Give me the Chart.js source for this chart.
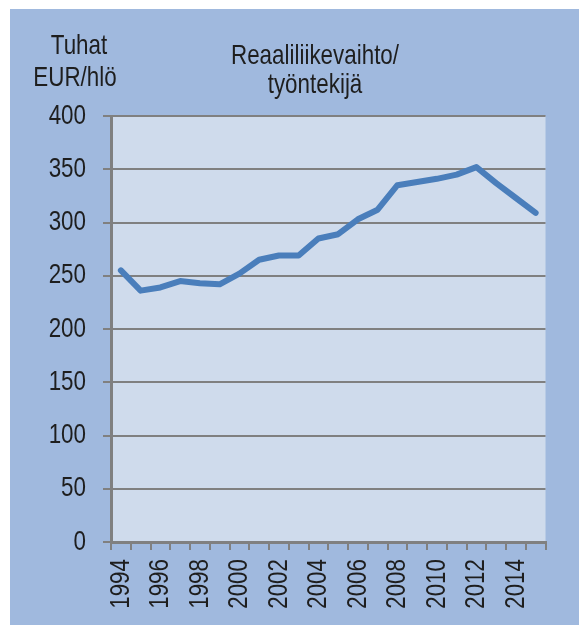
<!DOCTYPE html>
<html>
<head>
<meta charset="utf-8">
<script src="https://cdn.jsdelivr.net/npm/chart.js@4"></script>
<style>
  html, body { margin: 0; padding: 0; background: #ffffff; }
  canvas { display: block; }
</style>
</head>
<body>
<canvas id="c" width="579" height="625"></canvas>
<script>
const years = ["1994","1995","1996","1997","1998","1999","2000","2001","2002","2003","2004",
               "2005","2006","2007","2008","2009","2010","2011","2012","2013","2014","2015"];
const turnoverPerEmployee = [255, 236, 239, 245, 243, 242, 252, 265, 269, 269, 285,
                             289, 303, 312, 335, 338, 341, 345, 352, 337, 323, 309];
const yTicks = [0, 50, 100, 150, 200, 250, 300, 350, 400];
const unitLabel = ["Tuhat", "EUR/hlö"];
const titleLines = ["Reaaliliikevaihto/", "työntekijä"];

const FONT = '"Liberation Sans", Arial, sans-serif';
const SQUEEZE = 0.8; // condensed lettering like the original

const canvas = document.getElementById('c');
const ctx2d = canvas.getContext('2d');
const origFillText = ctx2d.fillText.bind(ctx2d);
ctx2d.fillText = function (text, x, y) {
  this.save();
  this.translate(x, y);
  this.scale(SQUEEZE, 1);
  origFillText(text, 0, 0);
  this.restore();
};

const bgPlugin = {
  id: 'bg',
  beforeDraw(chart) {
    const ctx = chart.ctx;
    const a = chart.chartArea;
    ctx.save();
    ctx.fillStyle = '#ffffff';
    ctx.fillRect(0, 0, chart.width, chart.height);
    ctx.fillStyle = '#a0b9de';
    ctx.fillRect(10, 9, chart.width - 10, chart.height - 9);
    ctx.fillStyle = '#cfdbec';
    ctx.fillRect(a.left, a.top, a.right - a.left, a.bottom - a.top);
    ctx.restore();
  },
  afterDraw(chart) {
    const ctx = chart.ctx;
    ctx.save();
    ctx.fillStyle = '#1e1e1e';
    ctx.font = '28px ' + FONT;
    ctx.textAlign = 'center';
    ctx.textBaseline = 'alphabetic';
    ctx.fillText(unitLabel[0], 79, 54);
    ctx.fillText(unitLabel[1], 75, 86);
    ctx.fillText(titleLines[0], 315, 64);
    ctx.fillText(titleLines[1], 315, 93);
    ctx.restore();
  }
};

new Chart(canvas, {
  type: 'line',
  data: {
    labels: years,
    datasets: [{
      data: turnoverPerEmployee,
      borderColor: '#4a7ebb',
      borderWidth: 6,
      pointRadius: 0,
      tension: 0,
      fill: false,
      borderCapStyle: 'round',
      borderJoinStyle: 'round'
    }]
  },
  options: {
    responsive: false,
    animation: false,
    devicePixelRatio: 1,
    layout: { padding: { top: 116, right: 33, left: 0, bottom: 0 } },
    plugins: { legend: { display: false }, tooltip: { enabled: false } },
    scales: {
      x: {
        type: 'category',
        offset: true,
        grid: {
          offset: true,
          drawOnChartArea: false,
          drawTicks: true,
          tickLength: 8,
          color: '#808080',
          lineWidth: 2
        },
        border: { color: '#808080', width: 3 },
        ticks: {
          autoSkip: false,
          maxRotation: 90,
          minRotation: 90,
          padding: 9,
          color: '#1e1e1e',
          font: { size: 28, family: FONT },
          callback: (v, i) => (i % 2 === 0 ? years[i] : '')
        },
        afterFit(scale) { scale.height = 83; }
      },
      y: {
        min: 0,
        max: 400,
        afterBuildTicks(scale) { scale.ticks = yTicks.map(v => ({ value: v })); },
        grid: {
          color: '#808080',
          lineWidth: 2,
          tickLength: 8,
          drawTicks: true
        },
        border: { color: '#808080', width: 3 },
        ticks: {
          padding: 17,
          color: '#1e1e1e',
          font: { size: 28, family: FONT }
        },
        afterFit(scale) { scale.width = 111; }
      }
    }
  },
  plugins: [bgPlugin]
});
</script>
</body>
</html>
